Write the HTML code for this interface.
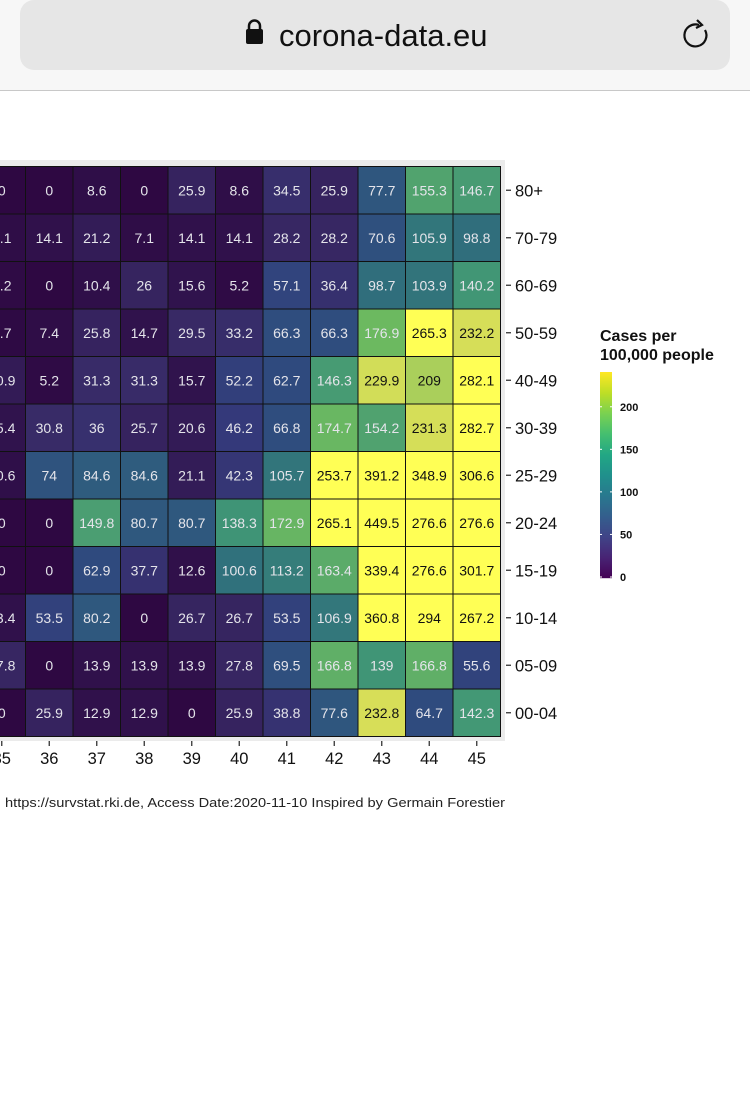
<!DOCTYPE html>
<html><head><meta charset="utf-8"><style>
body{margin:0;width:750px;height:1111px;background:#fff;overflow:hidden;font-family:"Liberation Sans",Arial,sans-serif}
</style></head><body>
<svg id="s" width="750" height="1111" xmlns="http://www.w3.org/2000/svg" style="position:absolute;left:0;top:0">
<rect x="0" y="0" width="750" height="90" fill="#f7f7f7"/>
<rect x="20" y="0" width="710" height="70" rx="14" fill="#e6e6e6"/>
<line x1="0" y1="90.5" x2="750" y2="90.5" stroke="#c8c8c8"/>
<rect x="246" y="29" width="17" height="15" rx="2" fill="#111"/>
<path d="M249,30 v-4 a5.5,5.5 0 0 1 11,0 v4" fill="none" stroke="#111" stroke-width="2.5"/>
<text x="279" y="46" font-size="31" fill="#111">corona-data.eu</text>
<path d="M705,30 a11,11 0 1 1 -6,-5" fill="none" stroke="#111" stroke-width="2.2"/>
<path d="M697,20 l5,5 l-6,3" fill="none" stroke="#111" stroke-width="2.2"/>
<rect x="0" y="160" width="505" height="581" fill="#ebebeb"/>
<g id="g"></g>
<text x="5" y="807" font-size="12.5" fill="#222" textLength="500" lengthAdjust="spacingAndGlyphs">https://survstat.rki.de, Access Date:2020-11-10 Inspired by Germain Forestier</text>
<text x="600" y="341" font-size="16" font-weight="bold" fill="#111">Cases per</text>
<text x="600" y="360" font-size="16" font-weight="bold" fill="#111">100,000 people</text>
</svg>
<script>
const V=[[68,1,84],[72,35,116],[64,67,135],[52,94,141],[41,120,142],[32,144,140],[34,167,132],[68,190,112],[121,209,81],[189,222,38],[253,231,37]];
function vir(t){t=Math.max(0,Math.min(1,t));const p=t*10,i=Math.min(9,Math.floor(p)),f=p-i;const a=V[i],b=V[i+1];return`rgb(${a.map((v,k)=>Math.round(v+(b[k]-v)*f)).join(',')})`;}
const S=[[0,"#2e0842"],[15,"#30124c"],[30,"#382a66"],[46,"#34397a"],[63,"#2f4a7e"],[85,"#2f5c7e"],[100,"#30707c"],[138,"#3f9476"],[150,"#4b9e72"],[177,"#6cb960"],[232,"#d6de58"],[245,"#e6e453"]];
function hx(h){return [1,3,5].map(i=>parseInt(h.substr(i,2),16));}
function pal(v){if(v>245)return"#ffff55";for(let i=0;i<S.length-1;i++){if(v<=S[i+1][0]){const f=(v-S[i][0])/(S[i+1][0]-S[i][0]);const a=hx(S[i][1]),b=hx(S[i+1][1]);return`rgb(${a.map((x,k)=>Math.round(x+(b[k]-x)*f)).join(',')})`;}}return S[S.length-1][1];}
const MAX=242;
const rows=["80+","70-79","60-69","50-59","40-49","30-39","25-29","20-24","15-19","10-14","05-09","00-04"];
const d=[
[0,0,8.6,0,25.9,8.6,34.5,25.9,77.7,155.3,146.7],
[7.1,14.1,21.2,7.1,14.1,14.1,28.2,28.2,70.6,105.9,98.8],
[5.2,0,10.4,26,15.6,5.2,57.1,36.4,98.7,103.9,140.2],
[3.7,7.4,25.8,14.7,29.5,33.2,66.3,66.3,176.9,265.3,232.2],
[20.9,5.2,31.3,31.3,15.7,52.2,62.7,146.3,229.9,209,282.1],
[15.4,30.8,36,25.7,20.6,46.2,66.8,174.7,154.2,231.3,282.7],
[10.6,74,84.6,84.6,21.1,42.3,105.7,253.7,391.2,348.9,306.6],
[0,0,149.8,80.7,80.7,138.3,172.9,265.1,449.5,276.6,276.6],
[0,0,62.9,37.7,12.6,100.6,113.2,163.4,339.4,276.6,301.7],
[13.4,53.5,80.2,0,26.7,26.7,53.5,106.9,360.8,294,267.2],
[27.8,0,13.9,13.9,13.9,27.8,69.5,166.8,139,166.8,55.6],
[0,25.9,12.9,12.9,0,25.9,38.8,77.6,232.8,64.7,142.3]];
const X0=25.5-47.5,W=47.5,Y0=166.5,H=47.5;let s="";
for(let r=0;r<12;r++){for(let c=0;c<11;c++){const v=d[r][c],x=X0+c*W,y=Y0+r*H;
s+=`<rect x="${x}" y="${y}" width="${W}" height="${H}" fill="${pal(v)}" stroke="#111" stroke-width="1"/>`;
s+=`<text x="${x+W/2}" y="${y+H/2+5}" font-size="14" text-anchor="middle" fill="${v>=200?'#111':'#e4e4ea'}">${v}</text>`;}
const y=Y0+r*H+H/2;
s+=`<line x1="506" y1="${y}" x2="511" y2="${y}" stroke="#333" stroke-width="1.3"/><text x="515" y="${y+6}" font-size="16.5" fill="#111">${rows[r]}</text>`;}
for(let c=0;c<11;c++){const x=X0+c*W+W/2;s+=`<line x1="${x}" y1="741" x2="${x}" y2="746" stroke="#333" stroke-width="1.3"/><text x="${x}" y="764" font-size="16.5" text-anchor="middle" fill="#111">${35+c}</text>`;}
for(let i=0;i<206;i++){const v=MAX*(1-i/206);s+=`<rect x="600" y="${372+i}" width="12" height="1.2" fill="${vir(v/MAX)}"/>`;}
[0,50,100,150,200].forEach(v=>{const y=577-v*206/MAX;s+=`<line x1="600" y1="${y}" x2="602" y2="${y}" stroke="#fff"/><line x1="610" y1="${y}" x2="612" y2="${y}" stroke="#fff"/><text x="620" y="${y+4}" font-size="11" font-weight="bold" fill="#111">${v}</text>`;});
document.getElementById('g').innerHTML=s;
</script>
</body></html>
